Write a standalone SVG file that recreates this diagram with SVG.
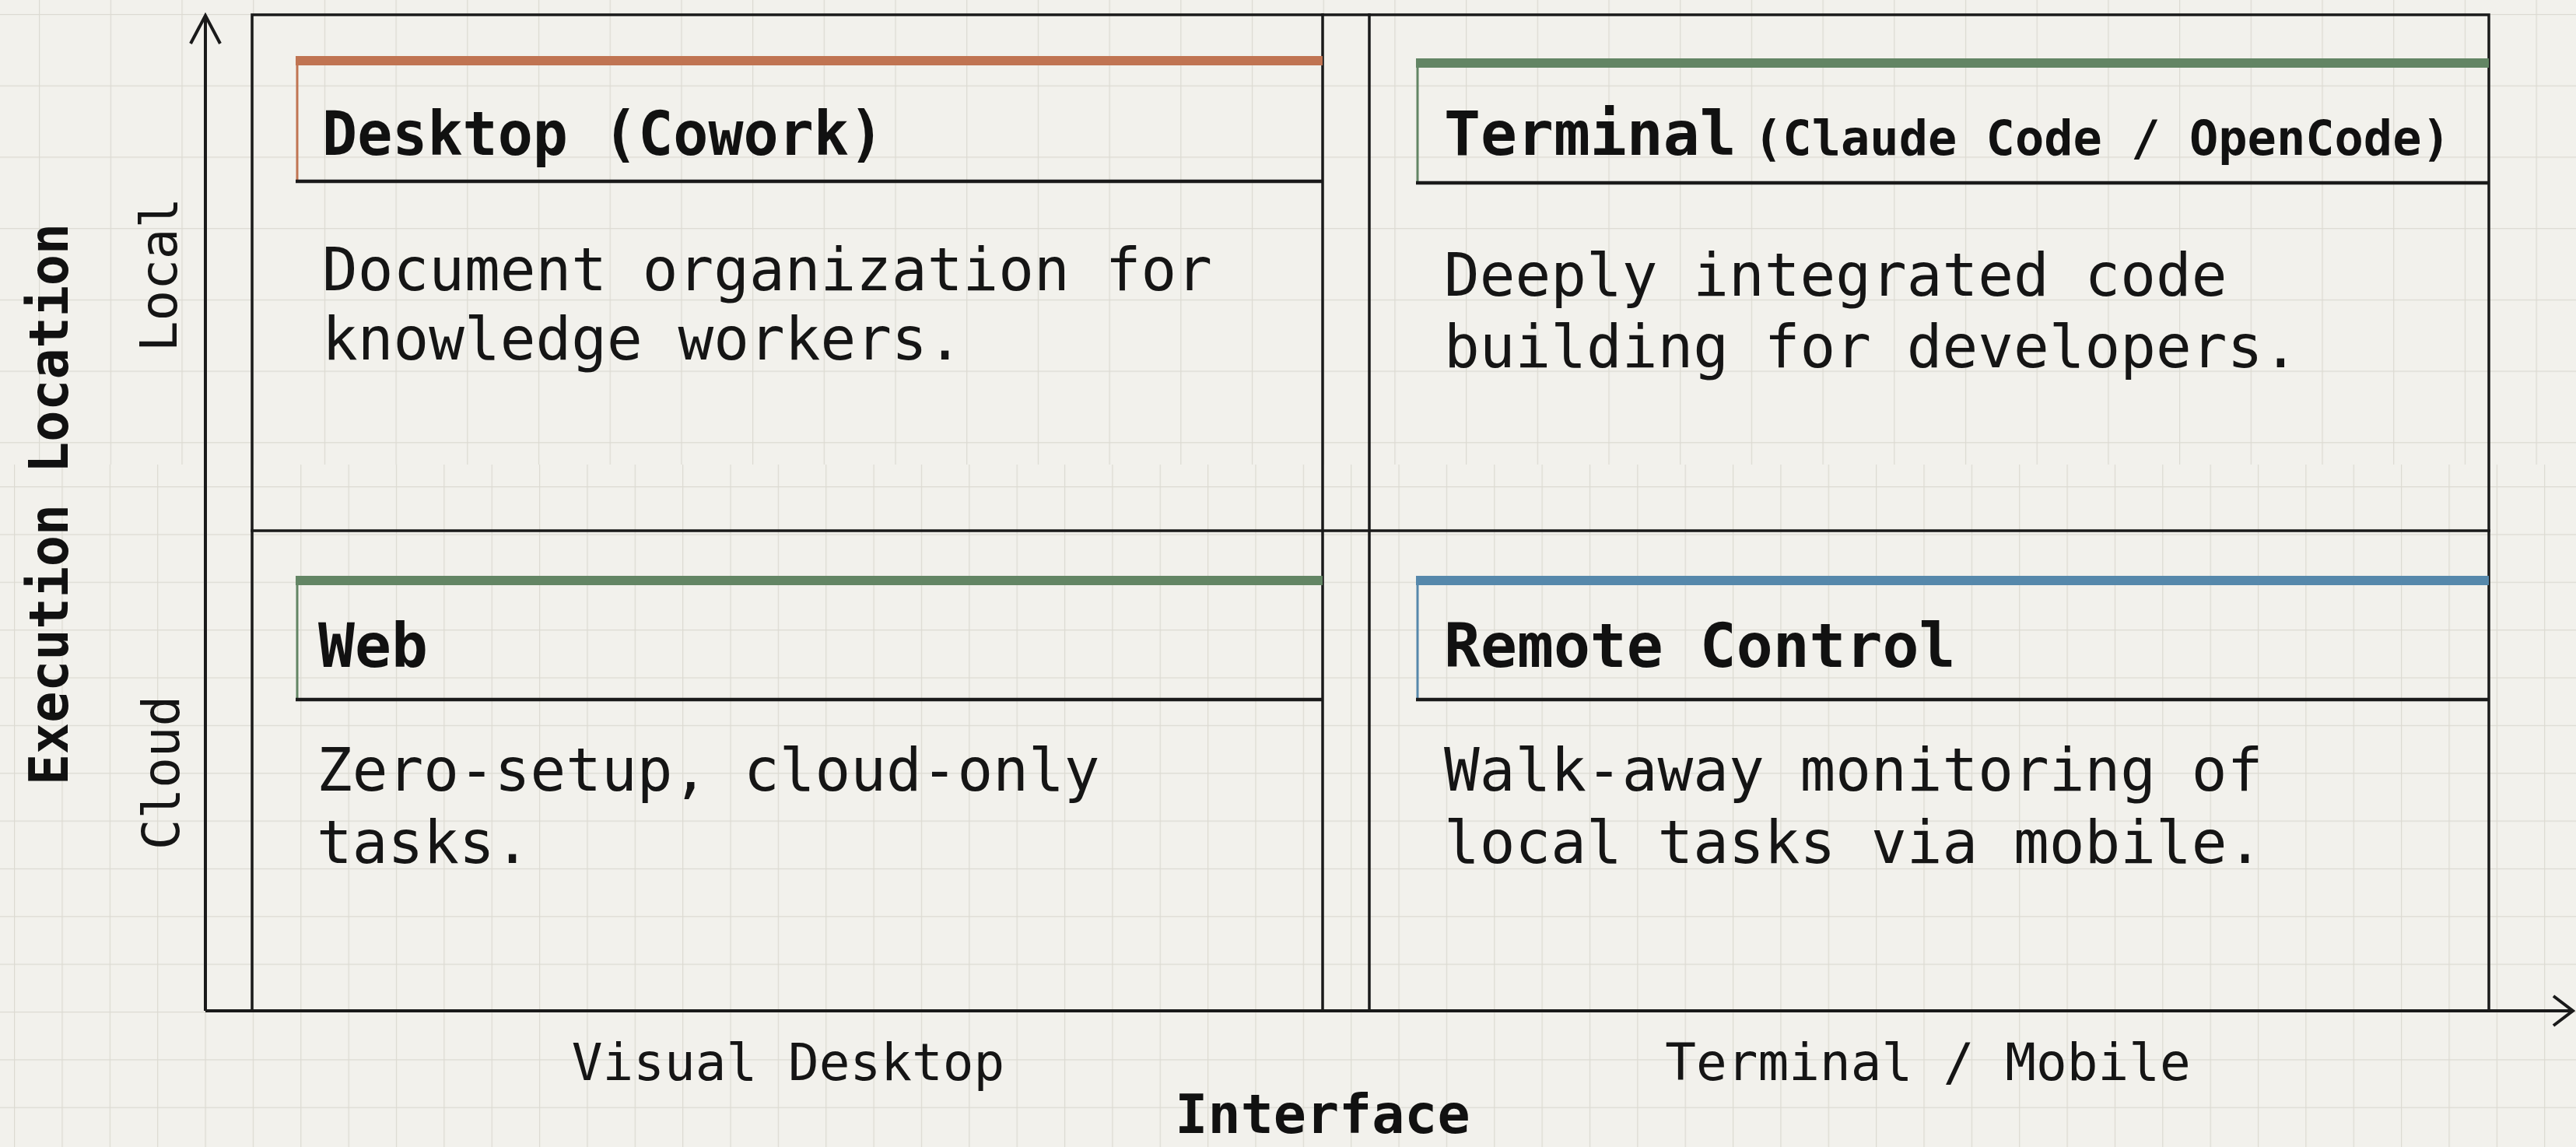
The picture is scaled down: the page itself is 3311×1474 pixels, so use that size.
<svg xmlns="http://www.w3.org/2000/svg" width="3311" height="1474" viewBox="0 0 3311 1474">
<defs>
<pattern id="gridTop" x="50" y="18" width="91.7" height="91.7" patternUnits="userSpaceOnUse">
<path d="M0 0 H91.7 M0 0 V91.7" fill="none" stroke="#dcdad2" stroke-width="2.5"/>
</pattern>
<pattern id="gridBot" x="18" y="625" width="61.36" height="61.36" patternUnits="userSpaceOnUse">
<path d="M0 0 H61.36 M0 0 V61.36" fill="none" stroke="#dcdad2" stroke-width="2.5"/>
</pattern>
</defs>
<style>
.bg{fill:#f2f1ec}
.ln{stroke:#1a1a1a;stroke-width:3.5;fill:none;stroke-linecap:square}
.ax{stroke:#1a1a1a;stroke-width:4;fill:none}
.hb{stroke:#1a1a1a;stroke-width:4.5;fill:none}
.head{font-family:"DejaVu Sans Mono","Liberation Mono",monospace;font-weight:bold;font-size:78px;fill:#111}
.sub{font-size:62px}
.body{font-family:"DejaVu Sans Mono","Liberation Mono",monospace;font-size:76px;fill:#151515}
.axl{font-family:"DejaVu Sans Mono","Liberation Mono",monospace;font-size:66px;fill:#151515}
.axt{font-family:"DejaVu Sans Mono","Liberation Mono",monospace;font-size:70px;font-weight:bold;fill:#111}
</style>
<rect class="bg" x="0" y="0" width="3311" height="1474"/>
<rect x="0" y="0" width="3311" height="597" fill="url(#gridTop)"/>
<rect x="0" y="597" width="3311" height="877" fill="url(#gridBot)"/>

<g id="connectors">
<path class="ax" d="M264 1299 V20"/>
<path class="ax" d="M245 56 L264 20 L283 56"/>
<path class="ax" d="M264 1299 H3306"/>
<path class="ax" d="M3282 1280 L3307 1299 L3282 1318"/>
<path class="ln" d="M324 19 H3199 V1299 M324 19 V1299"/>
<path class="ln" d="M1700 19 V1299 M1760 19 V1299"/>
<path class="ln" d="M324 682 H3199"/>
</g>

<g id="axis-y">
<text class="axt" transform="translate(87,648) rotate(-90)" text-anchor="middle" textLength="722" lengthAdjust="spacingAndGlyphs">Execution Location</text>
<text class="axl" transform="translate(227,353) rotate(-90)" text-anchor="middle">Local</text>
<text class="axl" transform="translate(230,993) rotate(-90)" text-anchor="middle">Cloud</text>
</g>
<g id="axis-x">
<text class="axl" x="1013" y="1388" text-anchor="middle">Visual Desktop</text>
<text class="axl" x="2478" y="1388" text-anchor="middle">Terminal / Mobile</text>
<text class="axt" x="1700" y="1456" text-anchor="middle" font-size="66">Interface</text>
</g>

<g id="node-desktop">
<rect x="380" y="72" width="1320" height="12" fill="#c07452"/>
<path d="M382 84 V233" stroke="#c07452" stroke-width="3" fill="none"/>
<path class="hb" d="M380 233 H1700"/>
<text class="head" x="414" y="199" textLength="722" lengthAdjust="spacingAndGlyphs">Desktop (Cowork)</text>
<text class="body" x="414" y="373">Document organization for</text>
<text class="body" x="414" y="462">knowledge workers.</text>
</g>

<g id="node-terminal">
<rect x="1820" y="75" width="1379" height="12" fill="#638564"/>
<path d="M1822 87 V235" stroke="#638564" stroke-width="3" fill="none"/>
<path class="hb" d="M1820 235 H3199"/>
<text class="head" x="1856" y="199">Terminal<tspan class="sub" x="2254">(Claude Code / OpenCode)</tspan></text>
<text class="body" x="1856" y="380">Deeply integrated code</text>
<text class="body" x="1856" y="472">building for developers.</text>
</g>

<g id="node-web">
<rect x="380" y="740" width="1320" height="12" fill="#638564"/>
<path d="M382 752 V899" stroke="#638564" stroke-width="3" fill="none"/>
<path class="hb" d="M380 899 H1700"/>
<text class="head" x="409" y="857">Web</text>
<text class="body" x="407" y="1016">Zero-setup, cloud-only</text>
<text class="body" x="407" y="1109">tasks.</text>
</g>

<g id="node-remote">
<rect x="1820" y="740" width="1379" height="12" fill="#5688ab"/>
<path d="M1822 752 V899" stroke="#5688ab" stroke-width="3" fill="none"/>
<path class="hb" d="M1820 899 H3199"/>
<text class="head" x="1856" y="857">Remote Control</text>
<text class="body" x="1856" y="1016">Walk-away monitoring of</text>
<text class="body" x="1856" y="1109">local tasks via mobile.</text>
</g>
</svg>
